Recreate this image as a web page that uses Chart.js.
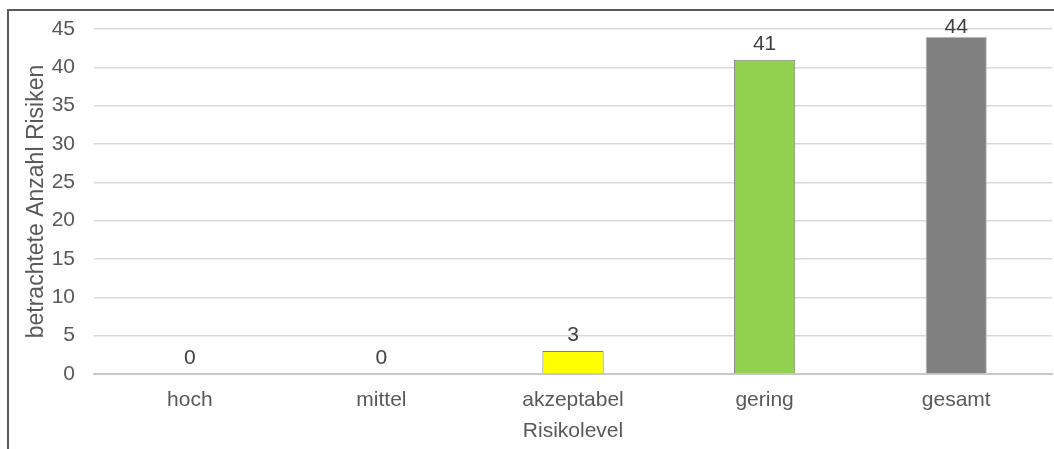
<!DOCTYPE html>
<html>
<head>
<meta charset="utf-8">
<script src="https://cdn.jsdelivr.net/npm/chart.js@4"></script>
<style>
  html, body { margin: 0; padding: 0; background: #fff; }
  #wrap { position: absolute; left: 0; top: 0; width: 1054px; height: 449px; }
  #frame { position: absolute; left: 7px; top: 9px; width: 1100px; height: 500px;
           border-left: 2px solid #5a5a5a; border-top: 2px solid #5a5a5a; pointer-events: none; }
</style>
</head>
<body>
<div id="wrap">
  <canvas id="riskChart" width="1054" height="449"></canvas>
  <div id="frame"></div>
</div>
<script>
// risk levels and counts
const categories = ['hoch', 'mittel', 'akzeptabel', 'gering', 'gesamt'];
const counts = [0, 0, 3, 41, 44];
const barColors = ['#c00000', '#ffc000', '#ffff00', '#92d050', '#808080'];
const yTicks = [0, 5, 10, 15, 20, 25, 30, 35, 40, 45];

const FONT = '"Liberation Sans", Arial, sans-serif';

// simple value labels above each bar, kept inside the plot top like Excel does
const valueLabels = {
  id: 'valueLabels',
  afterDatasetsDraw(chart) {
    const { ctx, chartArea } = chart;
    const meta = chart.getDatasetMeta(0);
    ctx.save();
    ctx.font = '21px ' + FONT;
    ctx.fillStyle = '#404040';
    ctx.textAlign = 'center';
    ctx.textBaseline = 'alphabetic';
    meta.data.forEach((bar, i) => {
      const y = Math.max(bar.y - 10, chartArea.top + 4);
      ctx.fillText(String(counts[i]), bar.x, y);
    });
    ctx.restore();
  }
};

function initChart() {
  const ctx = document.getElementById('riskChart');
  if (!ctx) return;

  new Chart(ctx, {
    type: 'bar',
    data: {
      labels: categories,
      datasets: [{
        data: counts,
        backgroundColor: barColors,
        borderColor: ['#808080', '#808080', '#808080', '#808080', '#bfbfbf'],
        borderWidth: 1,
        categoryPercentage: 1,
        barPercentage: 0.32
      }]
    },
    options: {
      responsive: false,
      animation: false,
      layout: { padding: { left: 23, right: 2, top: 29, bottom: 5 } },
      plugins: {
        legend: { display: false },
        tooltip: { enabled: false }
      },
      scales: {
        x: {
          afterFit: axis => { axis.height = 70; },
          grid: { display: false, drawTicks: false },
          border: { color: '#c8c8c8', width: 2 },
          ticks: { color: '#595959', padding: 14, font: { size: 21, family: FONT } },
          title: { display: true, text: 'Risikolevel', color: '#595959', padding: { top: 7, bottom: 0 },
                   font: { size: 21, family: FONT } }
        },
        y: {
          min: 0,
          max: 45,
          afterBuildTicks: axis => { axis.ticks = yTicks.map(v => ({ value: v })); },
          afterFit: axis => { axis.width = 71; axis.paddingTop = 0; },
          grid: { color: '#d9d9d9', lineWidth: 1.5, drawTicks: false },
          border: { display: false },
          ticks: { color: '#595959', padding: 19, font: { size: 21, family: FONT, lineHeight: 1 } },
          title: { display: true, text: 'betrachtete Anzahl Risiken', color: '#595959', padding: { top: 0, bottom: 2 },
                   font: { size: 23, family: FONT } }
        }
      }
    },
    plugins: [valueLabels]
  });
}

initChart();
</script>
</body>
</html>
